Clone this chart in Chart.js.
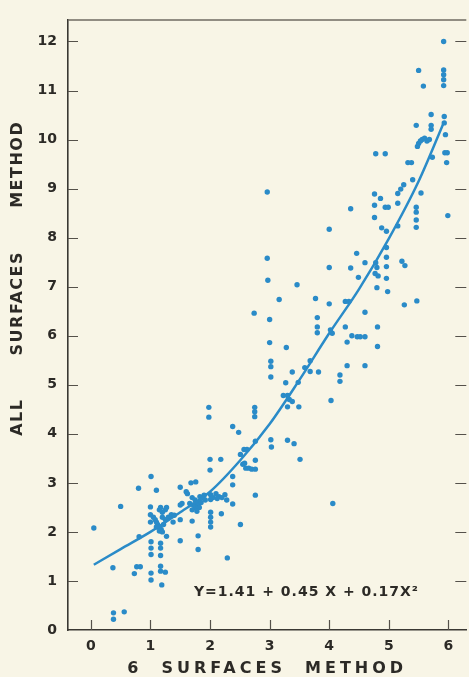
<!DOCTYPE html>
<html><head><meta charset="utf-8">
<script src="https://cdn.jsdelivr.net/npm/chart.js@4/dist/chart.umd.min.js"></script>
<style>
html,body{margin:0;padding:0;background:#f8f5e6;}
#wrap{width:469px;height:677px;position:relative;overflow:hidden;}
canvas{display:block;}
</style>
</head><body>
<div id="wrap"><canvas id="c" width="469" height="677"></canvas></div>
<script>
// Observed points (6 surfaces method, all surfaces method)
const obsX = [
  0.05,0.37,0.38,0.38,0.56,0.50,0.80,0.81,0.77,0.83,0.73,
  1.01,1.10,1.00,1.00,1.00,1.05,1.08,1.10,1.12,1.15,1.18,1.10,1.15,1.20,1.20,1.25,1.30,1.35,1.20,1.25,1.15,1.17,1.27,1.22,1.01,1.01,1.01,1.17,1.17,1.17,1.17,1.17,1.25,1.01,1.01,1.19,1.27,1.40,1.38,
  1.50,1.50,1.50,1.53,1.50,1.60,1.68,1.76,1.70,1.80,1.80,1.62,1.70,1.75,1.78,1.80,1.82,1.85,1.88,1.90,1.75,1.70,1.72,1.83,1.78,1.92,1.66,
  1.98,1.98,2.00,2.18,2.00,2.01,2.01,2.01,2.01,2.01,2.01,2.19,2.25,2.29,2.05,2.10,2.15,2.20,2.28,2.12,2.38,2.48,2.38,2.38,2.38,2.51,
  2.51,2.57,2.62,2.55,2.60,2.65,2.70,2.76,2.58,2.75,2.75,2.75,2.76,2.76,2.76,2.74,
  2.96,2.96,2.97,3.00,3.00,3.02,3.02,3.02,3.02,3.03,3.16,3.28,3.27,3.23,3.30,3.33,3.30,3.30,3.41,3.38,3.38,3.46,3.49,3.51,3.48,
  3.59,3.68,3.68,3.77,3.80,3.80,3.80,3.82,4.00,4.00,4.00,4.02,4.05,4.03,4.06,
  4.18,4.18,4.27,4.33,4.27,4.30,4.30,4.36,4.36,4.38,4.46,4.49,4.47,4.52,
  4.60,4.60,4.60,4.60,4.78,4.76,4.76,4.76,4.78,4.80,4.77,4.82,4.80,4.81,4.81,4.86,4.88,4.94,4.94,4.99,4.96,4.96,4.96,4.96,4.96,4.98,
  5.15,5.15,5.15,5.20,5.25,5.22,5.27,5.26,5.32,5.38,5.40,5.46,5.46,5.46,5.46,5.47,5.50,5.46,5.48,5.50,5.53,5.56,5.54,
  5.58,5.60,5.64,5.68,5.71,5.71,5.71,5.73,5.92,5.92,5.92,5.92,5.92,5.93,5.93,5.95,5.94,5.98,5.97,5.99
];
const obsY = [
  2.08,1.27,0.35,0.22,0.37,2.52,2.89,1.90,1.29,1.29,1.15,
  3.13,2.85,2.51,2.35,2.20,2.30,2.25,2.20,2.15,2.10,2.05,2.10,2.02,2.00,2.30,2.25,2.30,2.35,2.40,2.45,2.45,2.50,2.50,2.15,1.80,1.67,1.54,1.77,1.67,1.52,1.30,1.20,1.18,1.16,1.02,0.92,1.91,2.34,2.20,
  1.82,2.25,2.55,2.58,2.91,2.82,3.00,3.02,2.22,1.92,1.64,2.78,2.70,2.65,2.60,2.55,2.50,2.60,2.70,2.75,2.50,2.45,2.55,2.72,2.42,2.65,2.58,
  4.54,4.34,3.48,3.48,3.26,2.76,2.66,2.40,2.30,2.20,2.10,2.37,2.76,1.47,2.70,2.78,2.72,2.70,2.65,2.68,4.15,4.03,3.13,2.96,2.57,2.15,
  3.58,3.68,3.68,3.38,3.30,3.30,3.28,3.28,3.40,4.54,4.45,4.35,3.85,3.46,2.75,6.46,
  8.93,7.58,7.13,6.33,5.86,5.48,5.37,5.16,3.88,3.73,6.74,5.76,5.04,4.78,4.78,4.70,4.55,3.87,3.80,5.26,4.66,7.04,4.55,3.48,5.05,
  5.35,5.49,5.27,6.76,6.37,6.18,6.06,5.26,8.17,7.39,6.65,6.12,6.05,4.68,2.58,
  5.20,5.07,6.70,6.70,6.18,5.87,5.39,8.59,7.38,6.00,7.68,7.19,5.98,5.98,
  7.49,6.48,5.98,5.39,9.71,8.89,8.66,8.41,7.49,7.39,7.27,7.22,6.98,6.18,5.78,8.80,8.20,9.71,8.62,8.62,8.13,7.80,7.60,7.41,7.17,6.90,
  8.24,8.90,8.70,8.99,9.08,7.52,7.43,6.63,9.53,9.53,9.18,8.62,8.52,8.36,8.21,6.71,11.41,10.29,9.86,9.92,9.97,10.00,8.91,
  11.09,10.03,9.97,10.00,10.51,10.29,10.21,9.64,12.00,11.42,11.32,11.22,11.10,10.47,10.34,10.10,9.73,9.73,9.53,8.45
];
// Fitted curve as drawn in the figure
const fitX = [0.05,0.5,1.0,1.5,2.0,2.5,3.0,3.5,4.0,4.5,5.0,5.5,5.93];
const fitY = [1.33,1.65,2.00,2.40,2.82,3.45,4.20,5.10,6.05,6.95,7.98,9.15,10.37];
const xTicks = [0,1,2,3,4,5,6];
const yTicks = [0,1,2,3,4,5,6,7,8,9,10,11,12];
const xTitle = '6  SURFACES  METHOD';
const yTitle = 'ALL SURFACES METHOD';
const equationText = 'Y=1.41 + 0.45 X + 0.17X\u00B2';

const INK = '#2c2a26';
const BLUE = '#2a8bc8';
const BG = '#f8f5e6';
const FONT = '"DejaVu Sans", "Liberation Sans", sans-serif';

const spacingMap = {};
spacingMap[xTitle] = '4px';
spacingMap[equationText] = '1px';

const spacingPlugin = {
  id: 'spacing',
  beforeDraw(chart) {
    const ctx = chart.ctx;
    if (ctx.__patched) return;
    const orig = ctx.fillText;
    ctx.fillText = function (t, x, y, mw) {
      const sp = spacingMap[t];
      if (sp) {
        const prev = this.letterSpacing;
        this.letterSpacing = sp;
        if (mw === undefined) orig.call(this, t, x, y); else orig.call(this, t, x, y, mw);
        this.letterSpacing = prev;
      } else {
        if (mw === undefined) orig.call(this, t, x, y); else orig.call(this, t, x, y, mw);
      }
    };
    ctx.__patched = true;
  }
};

const bgPlugin = {
  id: 'bg',
  beforeDraw(chart) {
    const ctx = chart.ctx;
    ctx.save();
    ctx.fillStyle = BG;
    ctx.fillRect(0, 0, chart.width, chart.height);
    ctx.restore();
  }
};

const framePlugin = {
  id: 'frame',
  afterDraw(chart) {
    const ctx = chart.ctx;
    const a = chart.chartArea;
    const xs = chart.scales.x, ys = chart.scales.y;
    ctx.save();
    // top border
    ctx.strokeStyle = '#6f6a60';
    ctx.lineWidth = 1.5;
    ctx.beginPath();
    ctx.moveTo(a.left, a.top + 0.5);
    ctx.lineTo(a.right, a.top + 0.5);
    ctx.stroke();
    ctx.strokeStyle = '#55514a';
    ctx.lineWidth = 1.2;
    // inward y ticks, left and right
    yTicks.forEach(v => {
      if (v === 0) return;
      const py = Math.round(ys.getPixelForValue(v)) + 0.5;
      ctx.beginPath();
      ctx.moveTo(a.left, py); ctx.lineTo(a.left + 10, py);
      ctx.moveTo(a.right - 11, py); ctx.lineTo(a.right, py);
      ctx.stroke();
    });
    // inward x ticks
    xTicks.forEach(v => {
      const px = Math.round(xs.getPixelForValue(v)) + 0.5;
      ctx.beginPath();
      ctx.moveTo(px, a.bottom); ctx.lineTo(px, a.bottom - 10);
      ctx.stroke();
    });
    // equation
    ctx.fillStyle = INK;
    ctx.font = 'bold 14px ' + FONT;
    ctx.textAlign = 'left';
    ctx.textBaseline = 'middle';
    ctx.fillText(equationText, xs.getPixelForValue(1.73), ys.getPixelForValue(0.76));
    ctx.restore();

    // y-axis title (rotated), placed as in the original figure
    ctx.save();
    ctx.fillStyle = INK;
    ctx.font = 'bold 16px ' + FONT;
    ctx.textAlign = 'left';
    ctx.textBaseline = 'middle';
    ctx.letterSpacing = '1.5px';
    const hasWS = ('wordSpacing' in ctx);
    if (hasWS) ctx.wordSpacing = '36px';
    ctx.translate(17.5, ys.getPixelForValue(3.96));
    ctx.rotate(-Math.PI / 2);
    ctx.fillText(hasWS ? yTitle : yTitle.replace(/ /g, '       '), 0, 0);
    ctx.restore();
  }
};

const chart = new Chart(document.getElementById('c'), {
  type: 'scatter',
  data: {
    datasets: [
      {
        label: 'Observations',
        data: obsX.map((x, i) => ({ x: x, y: obsY[i] })),
        backgroundColor: BLUE,
        borderWidth: 0,
        pointRadius: 2.7,
        pointHoverRadius: 2.7,
        order: 2
      },
      {
        label: 'Fit',
        data: fitX.map((x, i) => ({ x: x, y: fitY[i] })),
        showLine: true,
        borderColor: BLUE,
        borderWidth: 2.5,
        pointRadius: 0,
        cubicInterpolationMode: 'monotone',
        fill: false,
        order: 1
      }
    ]
  },
  options: {
    responsive: false,
    devicePixelRatio: 1,
    animation: false,
    events: [],
    layout: { padding: { top: 10, right: 0, bottom: 0, left: 0 } },
    plugins: { legend: { display: false }, tooltip: { enabled: false } },
    scales: {
      x: {
        type: 'linear',
        min: -0.3833,
        max: 6.3,
        afterBuildTicks: s => { s.ticks = xTicks.map(v => ({ value: v })); },
        afterFit: s => { s.height = 47; },
        grid: { display: false, drawTicks: false },
        border: { display: true, color: '#3a3833', width: 1.6 },
        ticks: {
          padding: 8, color: INK, autoSkip: false, maxRotation: 0,
          font: { family: FONT, size: 14, weight: 'bold' },
          callback: v => String(v)
        },
        title: {
          display: true, text: xTitle, color: INK,
          font: { family: FONT, size: 16, weight: 'bold', lineHeight: 1 },
          padding: { top: 0, bottom: 0 }
        }
      },
      y: {
        type: 'linear',
        min: 0,
        max: 12.45,
        afterBuildTicks: s => { s.ticks = yTicks.map(v => ({ value: v })); },
        afterFit: s => { s.width = 68; },
        grid: { display: false, drawTicks: false },
        border: { display: true, color: '#3a3833', width: 1.6 },
        ticks: {
          padding: 11, color: INK, autoSkip: false,
          font: { family: FONT, size: 14, weight: 'bold' },
          callback: v => String(v)
        },
        title: { display: false, text: yTitle }
      }
    }
  },
  plugins: [spacingPlugin, bgPlugin, framePlugin]
});
</script>
</body></html>
